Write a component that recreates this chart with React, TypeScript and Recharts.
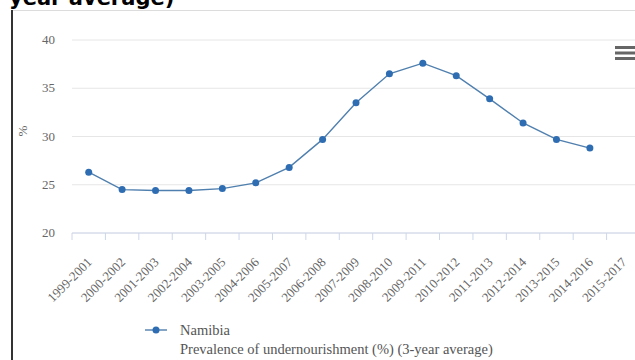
import React from "react";
import { LineChart, Line, XAxis, YAxis, CartesianGrid } from "recharts";

const periods = [
  "1999-2001", "2000-2002", "2001-2003", "2002-2004", "2003-2005", "2004-2006",
  "2005-2007", "2006-2008", "2007-2009", "2008-2010", "2009-2011", "2010-2012",
  "2011-2013", "2012-2014", "2013-2015", "2014-2016", "2015-2017",
];
const namibia: (number | null)[] = [
  26.3, 24.5, 24.4, 24.4, 24.6, 25.2, 26.8, 29.7, 33.5, 36.5, 37.6, 36.3,
  33.9, 31.4, 29.7, 28.8, null,
];
const yTicks = [20, 25, 30, 35, 40];
const seriesName = "Namibia";
const indicator = "Prevalence of undernourishment (%) (3-year average)";
const titleTail = "year average)";
const yLabel = "%";

const data = periods.map((p, i) => ({ period: p, value: namibia[i] }));

const CHART_W = 660;
const CHART_H = 360;
const M_LEFT = 12;
const Y_W = 60;
const M_RIGHT = 20;
const M_TOP = 40;
const X_H = 60;
const PLOT_W = CHART_W - M_LEFT - Y_W - M_RIGHT;
const HALF = PLOT_W / periods.length / 2;
const BLUE = "#2f6db3";
const LINE = "#4f7fae";
const SERIF = "'Liberation Serif', 'Times New Roman', serif";

function XTick(props: any) {
  const { x, y, payload, index } = props;
  const last = index === periods.length - 1;
  const ax = x + 4;
  const ay = y + 22;
  return (
    <g>
      <line x1={x - HALF} x2={x - HALF} y1={y - 8} y2={y - 1} stroke="#ccd6eb" />
      {last && <line x1={x + HALF} x2={x + HALF} y1={y - 8} y2={y - 1} stroke="#ccd6eb" />}
      <text
        x={ax}
        y={ay}
        textAnchor="end"
        transform={`rotate(-45 ${ax} ${ay})`}
        fontFamily={SERIF}
        fontSize={13}
        fill="#666"
      >
        {payload.value}
      </text>
    </g>
  );
}

function YTick(props: any) {
  const { x, y, payload } = props;
  return (
    <text x={x - 9} y={y} dy={4} textAnchor="end" fontFamily={SERIF} fontSize={13} fill="#666">
      {payload.value}
    </text>
  );
}

export default function App() {
  return (
    <div
      style={{
        position: "absolute",
        left: 0,
        top: 0,
        width: 635,
        height: 360,
        overflow: "hidden",
        background: "#fff",
      }}
    >
      <div style={{ position: "absolute", left: 0, top: 0 }}>
        <LineChart
          width={CHART_W}
          height={CHART_H}
          data={data}
          margin={{ top: M_TOP, right: M_RIGHT, left: M_LEFT, bottom: 127 - X_H }}
        >
          <CartesianGrid horizontal vertical={false} stroke="#e6e6e6" />
          <XAxis
            dataKey="period"
            interval={0}
            padding={{ left: HALF, right: HALF }}
            tickLine={false}
            axisLine={{ stroke: "#ccd6eb" }}
            tick={<XTick />}
            height={X_H}
          />
          <YAxis
            domain={[20, 40]}
            ticks={yTicks}
            width={Y_W}
            axisLine={false}
            tickLine={false}
            tick={<YTick />}
            label={{
              value: yLabel,
              angle: -90,
              position: "insideLeft",
              offset: 10,
              style: { fontFamily: SERIF, fontSize: 13, fill: "#666" },
            }}
          />
          <Line
            dataKey="value"
            stroke={LINE}
            strokeWidth={1.4}
            isAnimationActive={false}
            dot={{ r: 3.5, fill: BLUE, stroke: BLUE, strokeWidth: 0 }}
            connectNulls={false}
          />
        </LineChart>
      </div>
      {/* frame */}
      <div style={{ position: "absolute", left: 12, top: 10, width: 630, height: 1, background: "#dcdcdc" }} />
      <div style={{ position: "absolute", left: 11, top: 10, width: 2, height: 350, background: "#333" }} />
      {/* title tail */}
      <div
        style={{
          position: "absolute",
          left: 9,
          top: -14,
          fontFamily: "'DejaVu Sans', Verdana, sans-serif",
          fontWeight: "bold",
          fontSize: 21,
          lineHeight: "24px",
          color: "#000",
          whiteSpace: "nowrap",
        }}
      >
        {titleTail}
      </div>
      {/* menu icon */}
      <svg style={{ position: "absolute", left: 612, top: 44 }} width={23} height={20}>
        <rect x={3} y={2} width={20} height={3} fill="#666" />
        <rect x={3} y={7.5} width={20} height={3} fill="#666" />
        <rect x={3} y={13} width={20} height={3} fill="#666" />
      </svg>
      {/* legend */}
      <svg style={{ position: "absolute", left: 140, top: 320 }} width={30} height={20}>
        <line x1={5} x2={27} y1={10} y2={10} stroke={LINE} strokeWidth={1.4} />
        <circle cx={16} cy={10} r={3.5} fill={BLUE} />
      </svg>
      <div
        style={{
          position: "absolute",
          left: 180,
          top: 321,
          fontFamily: SERIF,
          fontSize: 14.5,
          lineHeight: "19px",
          color: "#555",
          whiteSpace: "nowrap",
        }}
      >
        <div>{seriesName}</div>
        <div>{indicator}</div>
      </div>
    </div>
  );
}
